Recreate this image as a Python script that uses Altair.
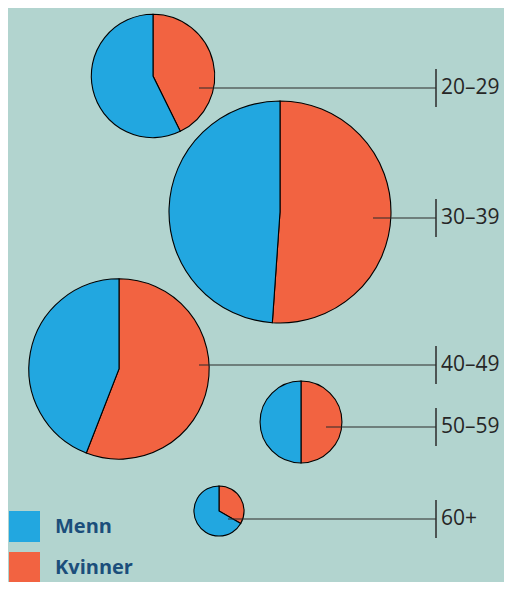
import math
import altair as alt
import pandas as pd

# ---- data ----
groups = ["20–29", "30–39", "40–49", "50–59", "60+"]
menn = [177, 489, 291, 68, 34]
kvinner = [132, 511, 369, 68, 17]
legend_order = ["Menn", "Kvinner"]

# ---- layout (reference pixel positions) ----
center_x = [153, 280, 119, 301, 219]
center_y = [76, 212, 369, 422, 511]
leader_y = [88, 218, 365, 427, 519]
leader_start_x = [199, 373, 199, 326, 228]
TICK_X = 436
LABEL_X = 441
TICK_HALF = 19

BG = "#b2d4cf"
BLUE = "#22a7e0"
RED = "#f26341"
LINE = "#2b2b2b"

rows = []
for g, m, k, cx, cy in zip(groups, menn, kvinner, center_x, center_y):
    t = m + k
    a = 2 * math.pi * k / t
    rows.append(dict(group=g, kjonn="Kvinner", value=k, total=t, t0=0.0, t1=a, cx=cx, cy=cy))
    rows.append(dict(group=g, kjonn="Menn", value=m, total=t, t0=a, t1=2 * math.pi, cx=cx, cy=cy))
pies = pd.DataFrame(rows)

lab = pd.DataFrame({
    "group": groups,
    "ly": leader_y,
    "x0": leader_start_x,
    "x1": [TICK_X] * len(groups),
    "lx": [LABEL_X] * len(groups),
    "ty0": [v - TICK_HALF for v in leader_y],
    "ty1": [v + TICK_HALF for v in leader_y],
})

W, H = 496, 574
xs = alt.Scale(domain=[8, 8 + W], range=[0, W])
ys = alt.Scale(domain=[8, 8 + H], range=[0, H])

arcs = alt.Chart(pies).mark_arc(stroke="black", strokeWidth=1.1).encode(
    x=alt.X("cx:Q", scale=xs, axis=None),
    y=alt.Y("cy:Q", scale=ys, axis=None),
    theta=alt.Theta("t0:Q", scale=None),
    theta2="t1:Q",
    radius=alt.Radius("total:Q", scale=alt.Scale(type="sqrt", domain=[0, 1000], range=[0, 111], zero=True)),
    color=alt.Color(
        "kjonn:N",
        scale=alt.Scale(domain=legend_order, range=[BLUE, RED]),
        legend=alt.Legend(
            title=None, orient="none", legendX=1, legendY=503,
            symbolType="square", symbolSize=961, symbolStrokeWidth=0, symbolOpacity=1,
            labelFont="Open Sans", labelFontWeight="bold", labelFontSize=20,
            labelColor="#1b4e7b", labelOffset=15, rowPadding=10, padding=0,
        ),
    ),
)

leaders = alt.Chart(lab).mark_rule(color=LINE, strokeWidth=1.2).encode(
    x=alt.X("x0:Q", scale=xs, axis=None),
    x2="x1:Q",
    y=alt.Y("ly:Q", scale=ys, axis=None),
)

ticks = alt.Chart(lab).mark_rule(color=LINE, strokeWidth=1.5).encode(
    x=alt.X("x1:Q", scale=xs, axis=None),
    y=alt.Y("ty0:Q", scale=ys, axis=None),
    y2="ty1:Q",
)

labels = alt.Chart(lab).mark_text(
    align="left", baseline="middle", font="Open Sans", fontSize=21, color="#262626"
).encode(
    x=alt.X("lx:Q", scale=xs, axis=None),
    y=alt.Y("ly:Q", scale=ys, axis=None),
    text="group:N",
)

chart = (
    alt.layer(arcs, leaders, ticks, labels)
    .properties(width=W, height=H, padding=0, background=BG,
                autosize=alt.AutoSizeParams(type="none"))
    .configure_view(stroke=None)
)

chart.save("out.html", embed_options={"renderer": "svg", "actions": False})
